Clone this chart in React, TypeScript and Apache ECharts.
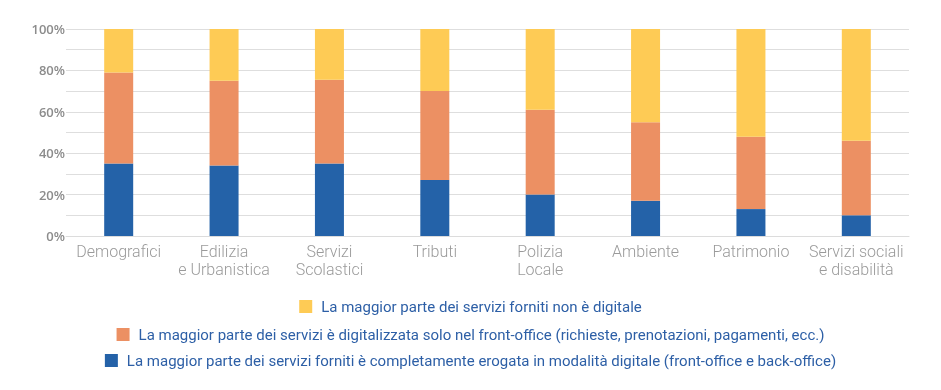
import React, { useEffect, useRef } from "react";
import * as echarts from "echarts";

const categories = [
  "Demografici",
  "Edilizia\ne Urbanistica",
  "Servizi\nScolastici",
  "Tributi",
  "Polizia\nLocale",
  "Ambiente",
  "Patrimonio",
  "Servizi sociali\ne disabilità",
];

const seriesNames = [
  "La maggior parte dei servizi forniti non è digitale",
  "La maggior parte dei servizi è digitalizzata solo nel front-office (richieste, prenotazioni, pagamenti, ecc.)",
  "La maggior parte dei servizi forniti è completamente erogata in modalità digitale (front-office e back-office)",
];

const digitalFull = [35, 34, 35, 27, 20, 17, 13, 10];
const frontOffice = [44, 41, 40.5, 43, 41, 38, 35, 36];
const notDigital = [21, 25, 24.5, 30, 39, 45, 52, 54];

const colors = ["#FECB55", "#EC9063", "#2462A8"];

export default function App() {
  const ref = useRef<HTMLDivElement>(null);
  useEffect(() => {
    if (!ref.current) return;
    const chart = echarts.init(ref.current, undefined, { renderer: "svg" });
    const legendBase = (name: string, top: number) => ({
      data: [name],
      left: "center",
      top,
      itemWidth: 13,
      itemHeight: 13,
      icon: "rect",
      selectedMode: false,
      textStyle: {
        color: "#2D5FA6",
        fontSize: 15,
        fontFamily: "Roboto",
        padding: [0, 0, 0, 4],
      },
    });
    chart.setOption({
      animation: false,
      grid: { left: 66, right: 32, top: 29, bottom: 154 },
      legend: [
        legendBase(seriesNames[0], 294),
        legendBase(seriesNames[1], 322),
        legendBase(seriesNames[2], 348),
      ],
      xAxis: {
        type: "category",
        data: categories,
        axisLine: { show: true, lineStyle: { color: "#dcdcdc" } },
        axisTick: { show: false },
        axisLabel: {
          interval: 0,
          color: "#9a9a9a",
          fontSize: 16,
          fontWeight: 300,
          fontFamily: "Roboto",
          lineHeight: 18,
          margin: 6,
        },
      },
      yAxis: {
        type: "value",
        min: 0,
        max: 100,
        interval: 10,
        axisLine: { show: false },
        axisTick: { show: false },
        splitLine: { lineStyle: { color: "#dedede" } },
        axisLabel: {
          formatter: (v: number) => (v % 20 === 0 ? v + "%" : ""),
          color: "#8c8c8c",
          fontSize: 13,
          fontWeight: 600,
          fontFamily: "Open Sans",
          margin: 1,
        },
      },
      series: [
        {
          name: seriesNames[2],
          type: "bar",
          stack: "total",
          barWidth: 29,
          data: digitalFull,
          itemStyle: { color: colors[2] },
        },
        {
          name: seriesNames[1],
          type: "bar",
          stack: "total",
          barWidth: 29,
          data: frontOffice,
          itemStyle: { color: colors[1] },
        },
        {
          name: seriesNames[0],
          type: "bar",
          stack: "total",
          barWidth: 29,
          data: notDigital,
          itemStyle: { color: colors[0] },
        },
      ],
    });
    return () => chart.dispose();
  }, []);
  return (
    <div
      ref={ref}
      style={{ position: "fixed", left: 0, top: 0, width: 941, height: 390 }}
    />
  );
}
